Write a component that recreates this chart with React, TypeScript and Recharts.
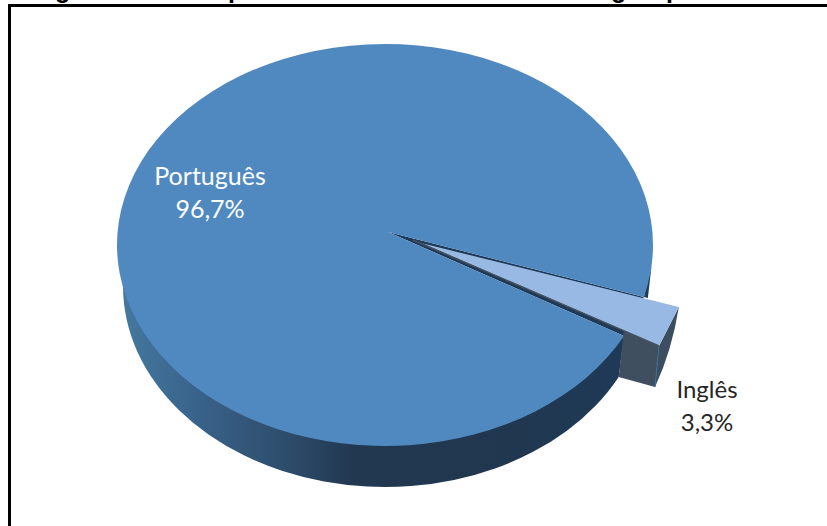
import { Pie, PieChart } from "recharts";

const categories = ["Português", "Inglês"];
const shares = [96.7, 3.3];
const shareLabels = ["96,7%", "3,3%"];
const titleTails = ["g", "p", "g", "p"];

const data = categories.map((name, i) => ({ name, value: shares[i] }));

// the pie is a tilted disc, so angles go through these instead of a circle
const squash = 0.75;
const depth = 41;
const apex = { x: 388, y: 232 };
const explode = { x: 35, y: 10 };

function rim(cx: number, cy: number, r: number, deg: number) {
  const a = (deg * Math.PI) / 180;
  return { x: cx + r * Math.cos(a), y: cy - r * squash * Math.sin(a) };
}

function floor(cx: number, cy: number, r: number, deg: number) {
  const a = (deg * Math.PI) / 180;
  return {
    x: cx + (r - 6) * Math.cos(a),
    y: cy + depth - r * squash * Math.sin(a),
  };
}

function PieSlice(props: any) {
  const { cx, cy, outerRadius: r, startAngle, endAngle, index } = props;
  const low = Math.min(startAngle, endAngle);
  const high = Math.max(startAngle, endAngle);
  const ry = r * squash;

  if (index === 0) {
    const a = rim(cx, cy, r, low);
    const b = rim(cx, cy, r, high);
    const floorLeft = floor(cx, cy, r, 180);
    const floorEnd = floor(cx, cy, r, high);
    const sliver = rim(cx, cy, r, low + 9);
    return (
      <g>
        <defs>
          <linearGradient id="wallFill" x1="0" y1="0" x2="1" y2="0">
            <stop offset="0%" stopColor="#44789f" />
            <stop offset="15%" stopColor="#39628a" />
            <stop offset="33%" stopColor="#2d4c6b" />
            <stop offset="46%" stopColor="#213850" />
            <stop offset="80%" stopColor="#20374f" />
            <stop offset="100%" stopColor="#1f3a58" />
          </linearGradient>
        </defs>
        <path
          d={`M${floorLeft.x},${floorLeft.y} A${r - 6},${ry} 0 0 0 ${floorEnd.x},${floorEnd.y} L${b.x},${b.y} Z`}
          fill="url(#wallFill)"
        />
        <path
          d={`M${sliver.x},${sliver.y} L${a.x + 4},${a.y + 1} L${a.x},${a.y} Z`}
          fill="#1f3c5a"
        />
        <path
          d={`M${apex.x},${apex.y} L${b.x},${b.y} L${a.x},${a.y} Z`}
          fill="#1f3a58"
        />
        <path
          d={`M${apex.x},${apex.y} L${a.x},${a.y} A${r},${ry} 0 1 0 ${b.x},${b.y} Z`}
          fill="#5089bf"
        />
      </g>
    );
  }

  const top = rim(cx, cy, r, high);
  const bottom = rim(cx, cy, r, low);
  const tip = { x: apex.x + explode.x - 2, y: apex.y + explode.y + 1 };
  const outerA = { x: top.x + explode.x, y: top.y + explode.y };
  const outerB = { x: bottom.x + explode.x, y: bottom.y + explode.y };
  const wallStart = {
    x: tip.x + (outerB.x - tip.x) * 0.852,
    y: tip.y + (outerB.y - tip.y) * 0.852,
  };
  const wallFoot = floor(cx, cy, r, low);
  const corner = { x: outerB.x - 4, y: outerB.y + depth };

  return (
    <g>
      <path
        d={`M${wallStart.x},${wallStart.y} L${outerB.x},${outerB.y} L${corner.x},${corner.y} L${wallFoot.x},${wallFoot.y} Z`}
        fill="#3f4f60"
      />
      <path
        d={`M${outerA.x},${outerA.y} L${outerB.x},${outerB.y} L${corner.x},${corner.y} Q${outerA.x - 7},${outerA.y + 44} ${outerA.x},${outerA.y} Z`}
        fill="#3c4d5f"
      />
      <path
        d={`M${outerB.x},${outerB.y} L${corner.x},${corner.y}`}
        stroke="#3f6a95"
        strokeWidth={1}
      />
      <path
        d={`M${tip.x},${tip.y} L${outerA.x},${outerA.y} L${outerB.x},${outerB.y} Z`}
        fill="#98b9e3"
      />
      <path
        d={`M${tip.x - 8},${tip.y - 3} L${outerB.x},${outerB.y}`}
        stroke="#44505e"
        strokeWidth={1.5}
      />
    </g>
  );
}

const labelSpots = [
  { x: 210, y: 185, fill: "#ffffff" },
  { x: 707, y: 398, fill: "#262626" },
];

function SliceLabel({ index }: any) {
  const spot = labelSpots[index];
  return (
    <text
      x={spot.x}
      y={spot.y}
      textAnchor="middle"
      fontFamily="Lato"
      fontSize={index === 0 ? 25 : 24}
      fill={spot.fill}
    >
      <tspan x={spot.x}>{categories[index]}</tspan>
      <tspan x={spot.x} dy={33}>
        {shareLabels[index]}
      </tspan>
    </text>
  );
}

const tailSpots = [62, 235, 618, 673];

export default function App() {
  return (
    <div
      style={{
        position: "absolute",
        left: 0,
        top: 0,
        width: 827,
        height: 526,
        overflow: "hidden",
        background: "#fff",
      }}
    >
      {titleTails.map((t, i) => (
        <span
          key={i}
          style={{
            position: "absolute",
            left: tailSpots[i] - 7,
            top: -26,
            fontFamily: "Liberation Sans",
            fontWeight: "bold",
            fontSize: 25,
            lineHeight: "30px",
            color: "#000",
          }}
        >
          {t}
        </span>
      ))}
      <div
        style={{
          position: "absolute",
          left: 8,
          top: 4,
          width: 830,
          height: 530,
          borderLeft: "3px solid #000",
          borderTop: "3px solid #000",
        }}
      />
      <div style={{ position: "absolute", left: 0, top: 0 }}>
        <PieChart width={827} height={526} margin={{ top: 0, right: 0, bottom: 0, left: 0 }}>
          <Pie
            data={data}
            dataKey="value"
            nameKey="name"
            cx={385}
            cy={245}
            outerRadius={268}
            startAngle={-15}
            endAngle={345}
            stroke="none"
            shape={PieSlice}
            label={SliceLabel}
            labelLine={false}
            isAnimationActive={false}
          />
        </PieChart>
      </div>
    </div>
  );
}
